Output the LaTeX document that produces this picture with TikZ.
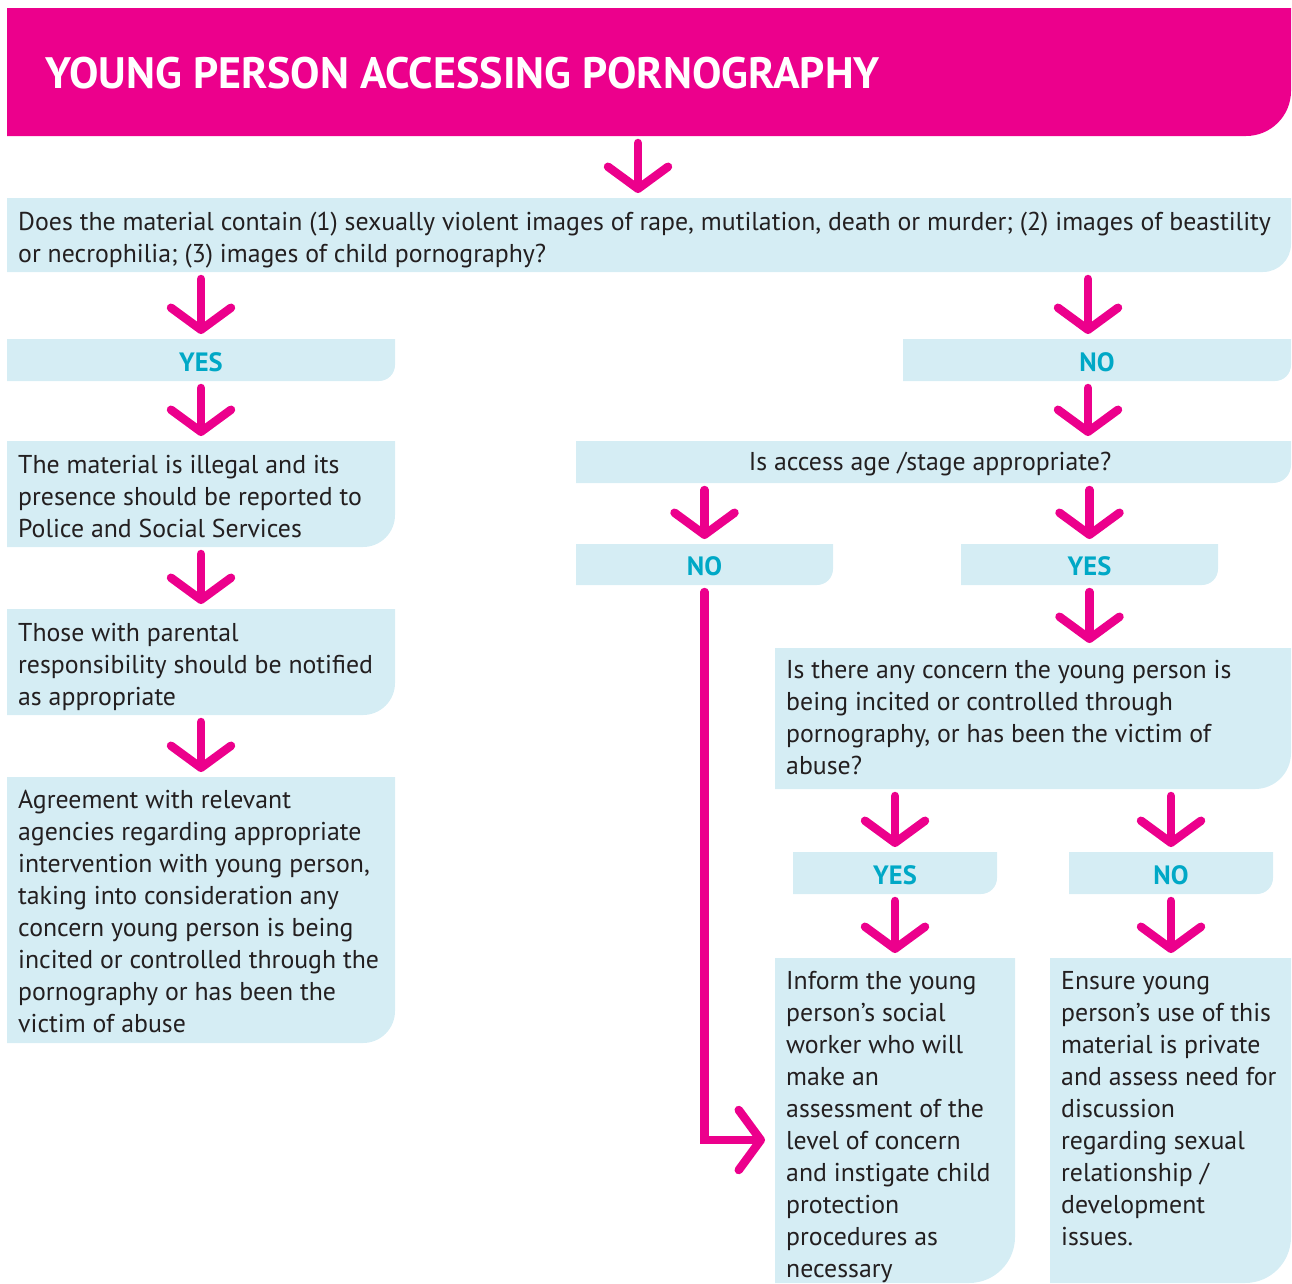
\documentclass[tikz,border=0pt]{standalone}
\usepackage{fontspec}
\setmainfont{PT Sans}
\usetikzlibrary{arrows.meta}
\definecolor{pinkc}{HTML}{EC008C}
\definecolor{lightb}{HTML}{D5EDF4}
\definecolor{cyanc}{HTML}{00A8C6}
\definecolor{txtc}{HTML}{231F20}
\newcommand\mybox[8]{%
  \fill[#1] (#3,#4) -- (#5,#4) [rounded corners=#7pt] -- (#5,#6) [sharp corners] -- (#3,#6) -- cycle;
  \node[boxnode, minimum width={#5-#3}, minimum height={#6-#4}, anchor=north west] (#2) at (#3,#4) {#8};}
\newcommand\lbl[1]{\raisebox{-2pt}[\height][\depth]{#1}}
\tikzset{
  boxnode/.style={inner sep=0pt, outer sep=0pt, text=cyanc, font=\bfseries\fontsize{26.5}{30}\selectfont},
  lbfill/.style={fill=lightb},
  pkfill/.style={fill=pinkc},
  bodytxt/.style={inner sep=0pt, anchor=north west, align=left, text=txtc, font=\fontsize{25.8}{32}\selectfont},
  titletxt/.style={inner sep=0pt, anchor=base west, text=white, font=\bfseries\fontsize{44}{50}\selectfont},
  conn/.style={draw=pinkc, line width=8.5pt, line cap=round, -{Straight Barb[round, length=22pt, width=60pt]}, shorten <=7pt, shorten >=5pt}
}
\begin{document}
\begin{tikzpicture}[x=1pt,y=-1pt]
\useasboundingbox (0,0) rectangle (1292,1283);
% header
\mybox{pkfill}{hdr}{7}{8}{1291}{136}{45}{}
\node[titletxt] (title) at (45,88) {YOUNG PERSON ACCESSING PORNOGRAPHY};
% question 1
\mybox{lbfill}{q1}{7}{198}{1291}{272}{28}{}
\node[bodytxt] (q1t) at ([xshift=11pt]q1.north west) {\rule{0pt}{32pt}Does the material contain (1) sexually violent images of rape, mutilation, death or murder; (2) images of beastility\\ or necrophilia; (3) images of child pornography?};
% labels
\mybox{lbfill}{yes1}{7}{339}{395}{381}{16}{\lbl{YES}}
\mybox{lbfill}{no1}{903}{339}{1291}{381}{16}{\lbl{NO}}
% left column
\mybox{lbfill}{illegal}{7}{441}{395}{547}{32}{}
\node[bodytxt] (illegalt) at ([xshift=11pt]illegal.north west) {\rule{0pt}{32pt}The material is illegal and its\\ presence should be reported to\\ Police and Social Services};
\mybox{lbfill}{parental}{7}{609}{395}{715}{32}{}
\node[bodytxt] (parentalt) at ([xshift=11pt]parental.north west) {\rule{0pt}{32pt}Those with parental\\ responsibility should be notified\\ as appropriate};
\mybox{lbfill}{agree}{7}{777}{395}{1043}{32}{}
\node[bodytxt] (agreet) at ([xshift=11pt]agree.north west) {\rule{0pt}{31pt}Agreement with relevant\\ agencies regarding appropriate\\ intervention with young person,\\ taking into consideration any\\ concern young person is being\\ incited or controlled through the\\ pornography or has been the\\ victim of abuse};
% right column
\mybox{lbfill}{access}{576}{441}{1291}{483}{18}{}
\node[inner sep=0pt, text=txtc, font=\fontsize{25.8}{32}\selectfont] (accesst) at (930,464) {Is access age /stage appropriate?};
\mybox{lbfill}{no2}{576}{544}{833}{585}{16}{\lbl{NO}}
\mybox{lbfill}{yes2}{961}{544}{1218}{585}{16}{\lbl{YES}}
\mybox{lbfill}{concern}{775}{648}{1291}{789}{36}{}
\node[bodytxt] (concernt) at ([xshift=11pt]concern.north west) {\rule{0pt}{30pt}Is there any concern the young person is\\ being incited or controlled through\\ pornography, or has been the victim of\\ abuse?};
\mybox{lbfill}{yes3}{793}{852}{997}{894}{16}{\lbl{YES}}
\mybox{lbfill}{no3}{1069}{852}{1273}{894}{16}{\lbl{NO}}
\mybox{lbfill}{inform}{775}{958}{1015}{1283}{46}{}
\node[bodytxt] (informt) at ([xshift=11pt]inform.north west) {\rule{0pt}{31pt}Inform the young\\ person’s social\\ worker who will\\ make an\\ assessment of the\\ level of concern\\ and instigate child\\ protection\\ procedures as\\ necessary};
\mybox{lbfill}{ensure}{1050}{958}{1291}{1283}{46}{}
\node[bodytxt] (ensuret) at ([xshift=11pt]ensure.north west) {\rule{0pt}{31pt}Ensure young\\ person’s use of this\\ material is private\\ and assess need for\\ discussion\\ regarding sexual\\ relationship /\\ development\\ issues.};
% connectors
\draw[conn] ([xshift=-11pt]hdr.south) -- ([xshift=-11pt]hdr.south |- q1.north);
\draw[conn] (q1.south -| yes1.north) -- (yes1.north);
\draw[conn] ([xshift=-9pt]q1.south -| no1.north) -- ([xshift=-9pt]no1.north);
\draw[conn] (yes1.south) -- (illegal.north);
\draw[conn] ([xshift=-9pt]no1.south) -- ([xshift=-9pt]no1.south |- access.north);
\draw[conn] (illegal.south) -- (parental.north);
\draw[conn] (parental.south) -- (agree.north);
\draw[conn] (access.south -| no2.north) -- (no2.north);
\draw[conn] (access.south -| yes2.north) -- (yes2.north);
\draw[conn] (yes2.south) -- (yes2.south |- concern.north);
\draw[conn] (concern.south -| yes3.north) -- (yes3.north);
\draw[conn] (concern.south -| no3.north) -- (no3.north);
\draw[conn] (yes3.south) -- (yes3.south |- inform.north);
\draw[conn] (no3.south) -- (no3.south |- ensure.north);
\coordinate (nobend) at (704.5,1140);
\draw[conn, shorten >=10pt] (no2.south) -- (nobend) -- (inform.west |- nobend);
\end{tikzpicture}
\end{document}
